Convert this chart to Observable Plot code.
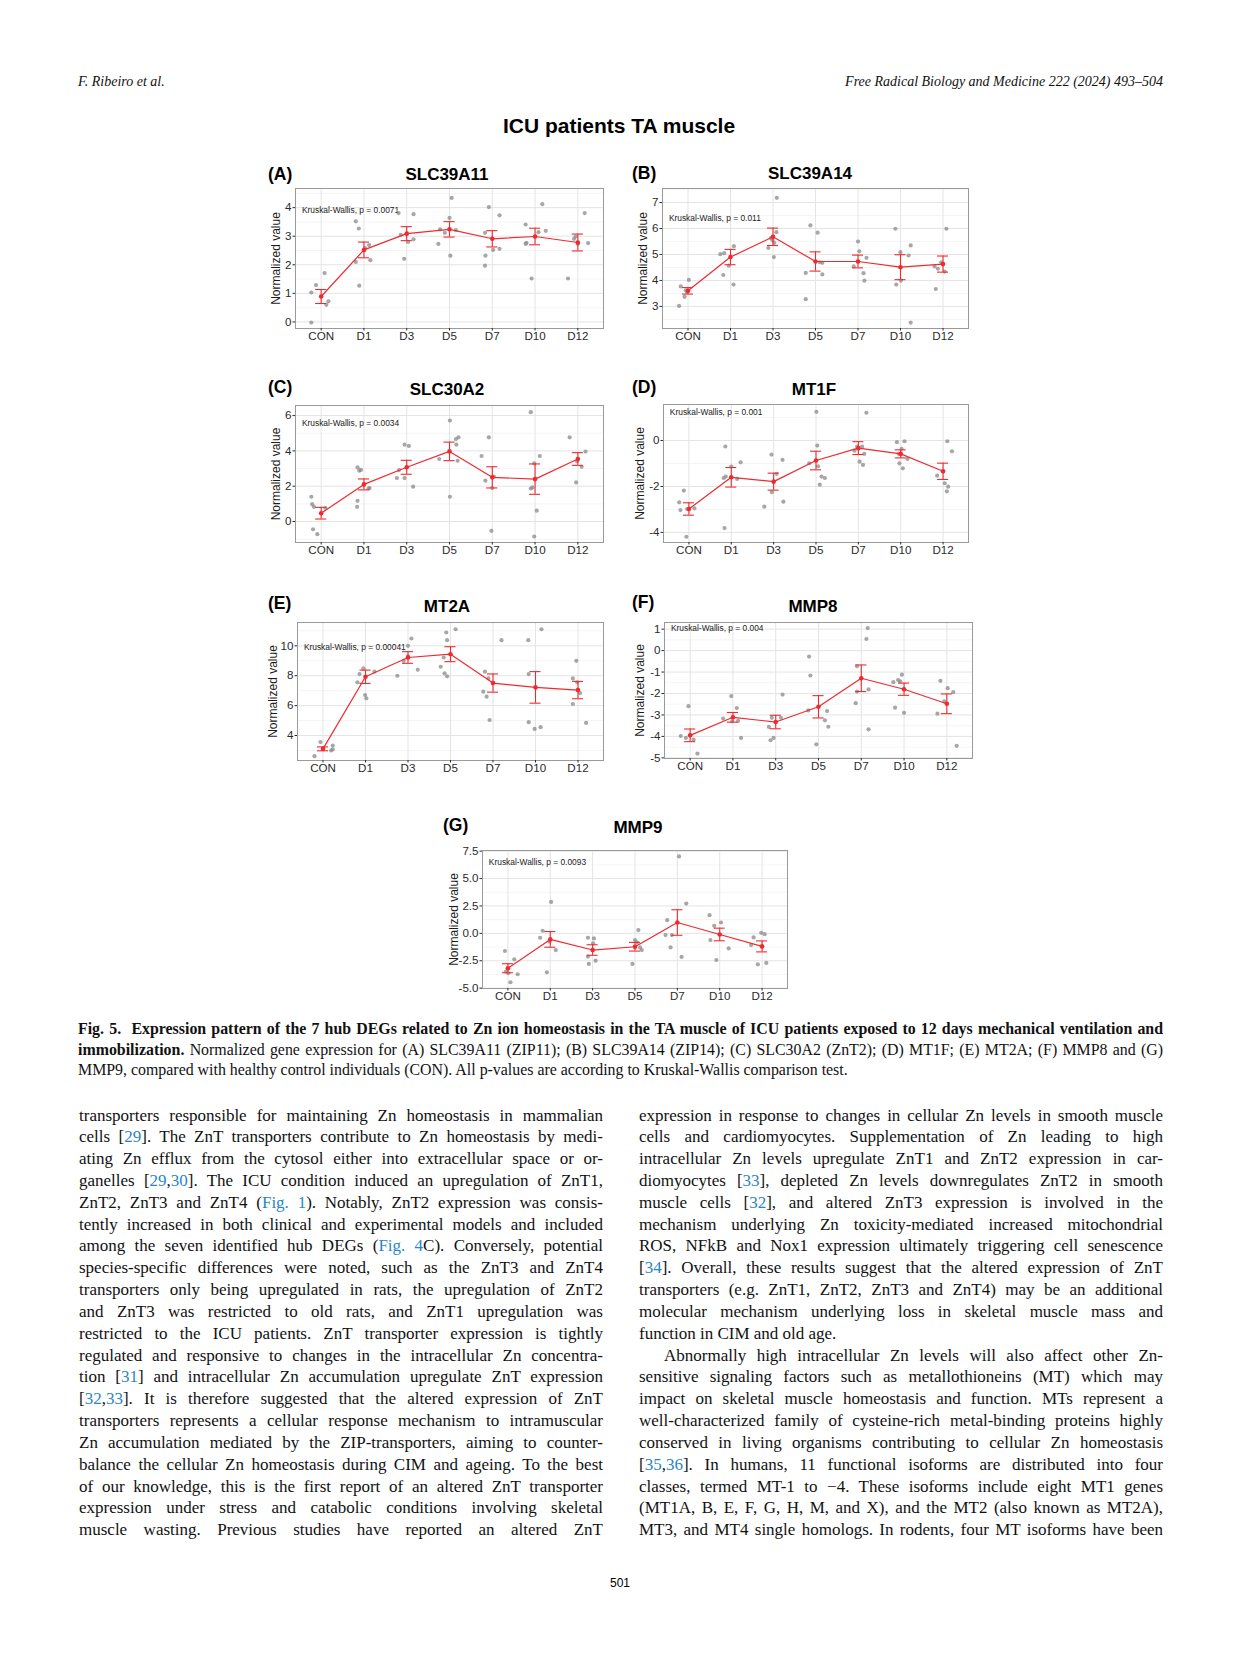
<!DOCTYPE html>
<html><head><meta charset="utf-8">
<script src="https://cdn.jsdelivr.net/npm/d3@7"></script>
<script src="https://cdn.jsdelivr.net/npm/@observablehq/plot@0.6"></script>
<style>
body{margin:0;background:#fff}
#page{position:relative;width:1241px;height:1654px;background:#fff;overflow:hidden}
.abs{position:absolute}
.hdr{font-family:"Liberation Serif",serif;font-style:italic;font-size:14px;line-height:16px;top:74px;color:#111;white-space:nowrap}
.sans{font-family:"Liberation Sans",Arial,sans-serif;color:#000}
.letter{font-weight:bold;font-size:17.5px;line-height:20px;white-space:nowrap}
.ptitle{font-weight:bold;font-size:17px;line-height:20px;transform:translateX(-50%);white-space:nowrap}
.cap{font-family:"Liberation Serif",serif;font-size:15.9px;line-height:20.5px;left:78px;width:1085px;top:1019px;color:#111}
.col{font-family:"Liberation Serif",serif;font-size:17px;line-height:21.83px;width:524px;top:1104.5px;color:#111}
.j{text-align:justify;text-align-last:justify}
.r{color:#2b86c5}
</style></head><body>
<div id="page">
  <div class="abs hdr" style="left:78px">F. Ribeiro et al.</div>
  <div class="abs hdr" style="right:78px">Free Radical Biology and Medicine 222 (2024) 493–504</div>
  <div class="abs sans" style="left:0;width:1238px;top:114px;text-align:center;font-weight:bold;font-size:21px;line-height:24px">ICU patients TA muscle</div>

  <div class="abs cap">
    <div class="j"><b>Fig. 5.&nbsp; Expression pattern of the 7 hub DEGs related to Zn ion homeostasis in the TA muscle of ICU patients exposed to 12 days mechanical ventilation and</b></div>
    <div class="j"><b>immobilization.</b> Normalized gene expression for (A) SLC39A11 (ZIP11); (B) SLC39A14 (ZIP14); (C) SLC30A2 (ZnT2); (D) MT1F; (E) MT2A; (F) MMP8 and (G)</div>
    <div>MMP9, compared with healthy control individuals (CON). All p-values are according to Kruskal-Wallis comparison test.</div>
  </div>

  <div class="abs col" style="left:79px">
    <div class="j">transporters responsible for maintaining Zn homeostasis in mammalian</div>
    <div class="j">cells [<span class="r">29</span>]. The ZnT transporters contribute to Zn homeostasis by medi-</div>
    <div class="j">ating Zn efflux from the cytosol either into extracellular space or or-</div>
    <div class="j">ganelles [<span class="r">29</span>,<span class="r">30</span>]. The ICU condition induced an upregulation of ZnT1,</div>
    <div class="j">ZnT2, ZnT3 and ZnT4 (<span class="r">Fig. 1</span>). Notably, ZnT2 expression was consis-</div>
    <div class="j">tently increased in both clinical and experimental models and included</div>
    <div class="j">among the seven identified hub DEGs (<span class="r">Fig. 4</span>C). Conversely, potential</div>
    <div class="j">species-specific differences were noted, such as the ZnT3 and ZnT4</div>
    <div class="j">transporters only being upregulated in rats, the upregulation of ZnT2</div>
    <div class="j">and ZnT3 was restricted to old rats, and ZnT1 upregulation was</div>
    <div class="j">restricted to the ICU patients. ZnT transporter expression is tightly</div>
    <div class="j">regulated and responsive to changes in the intracellular Zn concentra-</div>
    <div class="j">tion [<span class="r">31</span>] and intracellular Zn accumulation upregulate ZnT expression</div>
    <div class="j">[<span class="r">32</span>,<span class="r">33</span>]. It is therefore suggested that the altered expression of ZnT</div>
    <div class="j">transporters represents a cellular response mechanism to intramuscular</div>
    <div class="j">Zn accumulation mediated by the ZIP-transporters, aiming to counter-</div>
    <div class="j">balance the cellular Zn homeostasis during CIM and ageing. To the best</div>
    <div class="j">of our knowledge, this is the first report of an altered ZnT transporter</div>
    <div class="j">expression under stress and catabolic conditions involving skeletal</div>
    <div class="j">muscle wasting. Previous studies have reported an altered ZnT</div>
  </div>

  <div class="abs col" style="left:639px">
    <div class="j">expression in response to changes in cellular Zn levels in smooth muscle</div>
    <div class="j">cells and cardiomyocytes. Supplementation of Zn leading to high</div>
    <div class="j">intracellular Zn levels upregulate ZnT1 and ZnT2 expression in car-</div>
    <div class="j">diomyocytes [<span class="r">33</span>], depleted Zn levels downregulates ZnT2 in smooth</div>
    <div class="j">muscle cells [<span class="r">32</span>], and altered ZnT3 expression is involved in the</div>
    <div class="j">mechanism underlying Zn toxicity-mediated increased mitochondrial</div>
    <div class="j">ROS, NFkB and Nox1 expression ultimately triggering cell senescence</div>
    <div class="j">[<span class="r">34</span>]. Overall, these results suggest that the altered expression of ZnT</div>
    <div class="j">transporters (e.g. ZnT1, ZnT2, ZnT3 and ZnT4) may be an additional</div>
    <div class="j">molecular mechanism underlying loss in skeletal muscle mass and</div>
    <div>function in CIM and old age.</div>
    <div class="j" style="text-indent:25px">Abnormally high intracellular Zn levels will also affect other Zn-</div>
    <div class="j">sensitive signaling factors such as metallothioneins (MT) which may</div>
    <div class="j">impact on skeletal muscle homeostasis and function. MTs represent a</div>
    <div class="j">well-characterized family of cysteine-rich metal-binding proteins highly</div>
    <div class="j">conserved in living organisms contributing to cellular Zn homeostasis</div>
    <div class="j">[<span class="r">35</span>,<span class="r">36</span>]. In humans, 11 functional isoforms are distributed into four</div>
    <div class="j">classes, termed MT-1 to −4. These isoforms include eight MT1 genes</div>
    <div class="j">(MT1A, B, E, F, G, H, M, and X), and the MT2 (also known as MT2A),</div>
    <div class="j">MT3, and MT4 single homologs. In rodents, four MT isoforms have been</div>
  </div>

  <div class="abs sans" style="left:0;width:1240px;top:1575px;text-align:center;font-size:12px;line-height:16px">501</div>
</div>
<script>
const groups = ["CON","D1","D3","D5","D7","D10","D12"];
const geneNames = ["SLC39A11","SLC39A14","SLC30A2","MT1F","MT2A","MMP8","MMP9"];
const pValues = ["0.0071","0.011","0.0034","0.001","0.00041","0.004","0.0093"];

// (A) SLC39A11
const slc39a11Values = [
  [1.03,1.29,1.71,-0.02,0.60,0.72],
  [3.52,3.27,2.10,1.27,2.58,2.69,2.16],
  [3.81,3.77,3.05,2.89,2.21,2.80],
  [4.34,3.64,3.24,3.12,3.21,2.73,2.32],
  [4.02,3.73,3.12,2.32,1.97,2.52,2.56],
  [4.12,3.41,3.19,3.14,2.73,2.77,1.52],
  [3.81,2.91,2.73,2.76,1.52,2.99]];
const slc39a11Jitter = [
  [-0.23,-0.12,0.08,-0.23,0.12,0.17],
  [-0.19,-0.12,-0.19,-0.11,0.03,0.12,0.15],
  [-0.19,0.16,-0.14,0.16,-0.06,0.03],
  [0.05,0.0,-0.22,-0.11,0.15,-0.26,0.02],
  [-0.08,0.17,-0.17,-0.16,-0.17,0.02,0.17],
  [0.17,-0.22,0.25,0.08,-0.22,-0.20,-0.08],
  [0.16,-0.09,0.0,0.24,-0.23,-0.05]];
const slc39a11Mean = [0.89,2.52,3.09,3.24,2.91,2.99,2.78];
const slc39a11Se = [0.245,0.275,0.245,0.27,0.285,0.29,0.295];

// (B) SLC39A14
const slc39a14Values = [
  [3.02,3.77,4.02,3.62,3.37,3.55],
  [5.01,5.05,5.32,4.21,3.84,4.57],
  [7.18,5.86,5.25,5.63,5.45,4.90,5.55],
  [6.12,5.84,4.29,3.28,4.70,4.68,4.23],
  [5.50,5.12,4.87,4.54,4.28,3.99],
  [5.99,5.35,5.09,4.96,3.84,3.99,2.38],
  [5.99,4.54,4.45,4.70,3.67,4.34]];
const slc39a14Jitter = [
  [-0.21,-0.17,0.02,-0.05,-0.08,-0.02],
  [-0.24,-0.15,0.08,-0.17,0.07,-0.04],
  [0.09,0.08,-0.11,-0.05,0.03,0.02,-0.01],
  [-0.12,0.05,-0.23,-0.23,0.10,0.16,0.16],
  [0.0,0.03,0.20,-0.10,0.13,0.15],
  [-0.12,0.24,0.0,0.19,-0.10,0.01,0.24],
  [0.08,-0.20,-0.12,-0.04,-0.17,0.04]];
const slc39a14Mean = [3.60,4.90,5.68,4.73,4.73,4.51,4.63];
const slc39a14Se = [0.125,0.295,0.335,0.37,0.245,0.48,0.31];

// (C) SLC30A2
const slc30a2Values = [
  [1.40,0.98,0.83,-0.44,-0.72,0.76],
  [3.07,2.88,2.92,1.17,0.83,1.87,1.89],
  [4.35,4.28,2.91,2.46,2.46,1.97],
  [5.72,4.77,4.67,4.35,3.54,3.44,1.40],
  [4.77,3.71,2.54,2.31,1.89,-0.53],
  [6.19,3.29,3.71,1.87,1.93,0.61,-0.85],
  [4.77,3.96,3.41,3.10,2.21]];
const slc30a2Jitter = [
  [-0.23,-0.21,-0.17,-0.19,-0.09,0.10],
  [-0.15,-0.11,-0.07,-0.15,-0.16,0.11,0.13],
  [-0.05,0.05,-0.18,-0.23,-0.05,0.15],
  [0.01,0.21,0.15,0.16,-0.24,0.19,0.01],
  [-0.08,-0.25,0.04,-0.16,0.0,-0.02],
  [-0.10,-0.02,0.11,-0.10,-0.06,0.04,-0.02],
  [-0.19,0.18,-0.02,0.09,-0.04]];
const slc30a2Mean = [0.47,2.10,3.07,3.97,2.50,2.40,3.54];
const slc30a2Se = [0.33,0.31,0.395,0.525,0.60,0.86,0.36];

// (D) MT1F
const mt1fValues = [
  [-2.18,-2.69,-3.03,-2.98,-2.95,-4.19],
  [-0.26,-0.95,-1.13,-1.63,-1.57,-1.67,-3.81],
  [-0.61,-0.84,-1.45,-2.25,-2.88,-2.66],
  [1.25,-0.22,-0.99,-1.12,-1.57,-1.63,-1.92],
  [1.21,-0.26,-0.26,-0.44,-0.58,-0.92,-1.06],
  [-0.03,-0.07,-0.36,-0.58,-0.80,-0.99,-1.21],
  [-0.03,-0.47,-1.53,-1.86,-2.01,-2.21]];
const mt1fJitter = [
  [-0.12,-0.23,-0.20,-0.04,0.13,-0.06],
  [-0.14,0.22,0.0,-0.18,-0.13,0.14,-0.16],
  [-0.05,0.21,0.07,-0.04,-0.22,0.23],
  [0.01,0.03,-0.16,0.05,0.13,0.21,0.09],
  [0.19,-0.03,0.09,-0.09,0.14,0.03,0.11],
  [0.09,-0.09,0.02,-0.05,0.16,-0.03,0.05],
  [0.10,0.21,-0.14,0.04,0.12,0.09]];
const mt1fMean = [-2.98,-1.60,-1.79,-0.87,-0.33,-0.58,-1.34];
const mt1fSe = [0.27,0.425,0.37,0.405,0.28,0.175,0.355];

// (E) MT2A
const mt2aValues = [
  [3.56,2.62,3.33,3.00,3.07],
  [8.11,8.49,7.56,8.27,6.71,6.49],
  [10.49,10.00,8.00,8.40,9.29,9.00],
  [11.11,10.89,10.38,9.22,8.60,8.16,7.96],
  [10.38,8.27,7.82,6.93,6.60,5.04],
  [10.38,11.11,8.11,4.89,4.44,4.56],
  [9.00,7.82,7.56,6.84,6.11,4.84]];
const mt2aJitter = [
  [-0.06,-0.20,0.23,0.19,0.23],
  [-0.14,-0.05,-0.19,0.21,-0.01,0.02],
  [0.08,0.0,-0.25,0.23,0.0,-0.10],
  [0.12,-0.10,-0.08,-0.16,-0.23,-0.14,-0.08],
  [0.20,-0.19,-0.11,-0.23,-0.15,-0.08],
  [-0.17,0.14,-0.16,-0.16,-0.02,0.12],
  [-0.04,-0.12,-0.02,0.05,-0.12,0.19]];
const mt2aMean = [3.11,7.93,9.22,9.44,7.51,7.22,7.04];
const mt2aSe = [0.13,0.445,0.39,0.50,0.61,1.055,0.58];

// (F) MMP8
const mmp8Values = [
  [-2.59,-3.98,-4.07,-4.15,-4.80],
  [-2.12,-2.68,-3.17,-3.28,-4.07,-3.30],
  [-2.05,-3.13,-3.13,-3.56,-4.07,-4.18],
  [-0.28,-1.16,-2.79,-2.82,-3.25,-3.55,-4.37],
  [1.05,0.54,-0.73,-1.91,-1.81,-2.45,-3.67],
  [-1.12,-1.37,-1.43,-1.47,-2.66,-2.90],
  [-1.41,-1.75,-1.94,-2.37,-2.94,-4.44]];
const mmp8Jitter = [
  [-0.04,-0.22,-0.10,0.08,0.17],
  [-0.04,0.09,-0.23,0.12,0.19,-0.02],
  [0.16,-0.09,0.12,-0.16,-0.05,-0.12],
  [-0.22,-0.19,-0.24,0.20,0.15,0.23,-0.05],
  [0.15,0.12,-0.10,-0.10,0.17,-0.13,0.17],
  [-0.05,-0.14,-0.09,-0.25,-0.21,0.0],
  [-0.15,0.02,0.15,-0.06,-0.22,0.23]];
const mmp8Mean = [-3.95,-3.11,-3.33,-2.62,-1.29,-1.80,-2.48];
const mmp8Se = [0.295,0.225,0.315,0.52,0.62,0.285,0.46];

// (G) MMP9
const mmp9Values = [
  [-1.61,-2.37,-3.49,-3.64,-3.73,-4.46],
  [2.87,0.24,-0.40,-0.76,-1.52,-3.55],
  [-0.40,-0.46,-0.91,-2.12,-2.79,-2.49],
  [0.30,-0.61,-0.82,-1.28,-1.52,-2.79],
  [7.02,2.72,1.20,-0.16,-0.16,-1.28,-2.15],
  [1.66,0.99,0.69,-0.61,-1.37,-2.43],
  [0.05,-0.07,-0.37,-1.07,-2.82,-2.70]];
const mmp9Jitter = [
  [-0.07,0.15,-0.05,0.01,0.23,0.06],
  [0.02,-0.18,-0.24,-0.02,0.13,-0.08],
  [-0.11,0.03,0.01,-0.11,-0.09,0.07],
  [0.08,0.0,0.05,0.12,0.16,-0.06],
  [0.04,0.21,-0.24,-0.28,-0.13,-0.16,0.10],
  [-0.24,0.03,-0.13,-0.22,0.21,-0.08],
  [-0.02,0.06,-0.20,-0.26,-0.10,0.10]];
const mmp9Mean = [-3.18,-0.55,-1.52,-1.22,0.99,-0.10,-1.19];
const mmp9Se = [0.41,0.715,0.48,0.395,1.165,0.575,0.50];

// y-axis ticks per panel
const ticksA = [0,1,2,3,4], ticksB = [3,4,5,6,7], ticksC = [0,2,4,6], ticksD = [-4,-2,0],
      ticksE = [4,6,8,10], ticksF = [-5,-4,-3,-2,-1,0,1], ticksG = [-5,-2.5,0,2.5,5,7.5];

const RED = "#ef2a2f";
const intFmt = d => String(d);
const oneFmt = d => d.toFixed(1);

// layout (frame: left, top, right, bottom in page px)
const panels = [
  {letter:"(A)", values:slc39a11Values, jitter:slc39a11Jitter, mean:slc39a11Mean, se:slc39a11Se, ticks:ticksA, fmt:intFmt,
   frame:[295,188,603,328], ydomain:[-0.23,4.67], labelY:3.9, ylabDx:-19, letterPos:[268,174], titlePos:[447,175]},
  {letter:"(B)", values:slc39a14Values, jitter:slc39a14Jitter, mean:slc39a14Mean, se:slc39a14Se, ticks:ticksB, fmt:intFmt,
   frame:[662,188,968,328], ydomain:[2.15,7.54], labelY:6.4, ylabDx:-19, letterPos:[632,173], titlePos:[810,174]},
  {letter:"(C)", values:slc30a2Values, jitter:slc30a2Jitter, mean:slc30a2Mean, se:slc30a2Se, ticks:ticksC, fmt:intFmt,
   frame:[295,405,603,542], ydomain:[-1.19,6.57], labelY:5.58, ylabDx:-19, letterPos:[268,387], titlePos:[447,390]},
  {letter:"(D)", values:mt1fValues, jitter:mt1fJitter, mean:mt1fMean, se:mt1fSe, ticks:ticksD, fmt:intFmt,
   frame:[663,404,968,542], ydomain:[-4.44,1.57], labelY:1.21, ylabDx:-23, letterPos:[632,387], titlePos:[814,390]},
  {letter:"(E)", values:mt2aValues, jitter:mt2aJitter, mean:mt2aMean, se:mt2aSe, ticks:ticksE, fmt:intFmt,
   frame:[297,622,603,760], ydomain:[2.33,11.56], labelY:9.93, ylabDx:-24, letterPos:[268,603], titlePos:[447,607]},
  {letter:"(F)", values:mmp8Values, jitter:mmp8Jitter, mean:mmp8Mean, se:mmp8Se, ticks:ticksF, fmt:intFmt,
   frame:[664,622,972,758], ydomain:[-5.03,1.31], labelY:1.05, ylabDx:-24, letterPos:[632,602], titlePos:[813,607]},
  {letter:"(G)", values:mmp9Values, jitter:mmp9Jitter, mean:mmp9Mean, se:mmp9Se, ticks:ticksG, fmt:oneFmt,
   frame:[482,850,787,988], ydomain:[-5.03,7.56], labelY:6.45, ylabDx:-28, letterPos:[443,825], titlePos:[638,828]}
];

const page = document.getElementById("page");
const idx = d3.range(groups.length);

panels.forEach((c, k) => {
  const ml = 45, mr = 4, mt = 4, mb = 24;
  const [fl, ft, fr, fb] = c.frame;
  const w = fr - fl + ml + mr, h = fb - ft + mt + mb;
  const step = (c.ticks[1] - c.ticks[0]) / 2;
  const minor = d3.range(c.ticks[0] - step, c.ticks[c.ticks.length - 1] + step * 1.01, step * 2)
    .filter(v => v > c.ydomain[0] && v < c.ydomain[1]);
  const pts = c.values.flatMap((arr, i) => arr.map((v, j) => ({x: i + c.jitter[i][j], y: v})));
  const summ = c.mean.map((m, i) => ({x: i, m, lo: m - c.se[i], hi: m + c.se[i]}));
  const svg = Plot.plot({
    width: w, height: h, marginLeft: ml, marginRight: mr, marginTop: mt, marginBottom: mb,
    x: {domain: [-0.6, groups.length - 0.4]},
    y: {domain: c.ydomain},
    style: {fontFamily: "Liberation Sans, Arial, sans-serif", fontSize: "11.6px", background: "transparent", overflow: "visible", color: "#2a2a2a"},
    marks: [
      Plot.ruleY(minor, {stroke: "#f1f1f1", strokeWidth: 0.7}),
      Plot.ruleY(c.ticks, {stroke: "#e4e4e4", strokeWidth: 1}),
      Plot.ruleX(idx, {stroke: "#e4e4e4", strokeWidth: 1}),
      Plot.frame({stroke: "#9a9a9a", strokeWidth: 1}),
      Plot.axisY({ticks: c.ticks, tickSize: 2.5, tickPadding: 1.5, tickFormat: c.fmt, label: null, color: "#2a2a2a"}),
      Plot.axisX({ticks: idx, tickSize: 2.5, tickPadding: 1.2, tickFormat: i => groups[i], label: null, color: "#2a2a2a"}),
      Plot.text(["Normalized value"], {text: d => d, frameAnchor: "left", textAnchor: "middle", rotate: -90, dx: c.ylabDx, fontSize: 12, fill: "#1a1a1a"}),
      Plot.text([`Kruskal-Wallis, p = ${pValues[k]}`], {text: d => d, x: -0.45, y: c.labelY, textAnchor: "start", fontSize: 8.4, fill: "#222"}),
      Plot.dot(pts, {x: "x", y: "y", r: 2.1, fill: "#8a8a8a", fillOpacity: 0.75}),
      Plot.line(summ, {x: "x", y: "m", stroke: RED, strokeWidth: 1.2}),
      Plot.ruleX(summ, {x: "x", y1: "lo", y2: "hi", stroke: RED, strokeWidth: 1.1}),
      Plot.ruleY(summ, {y: "lo", x1: d => d.x - 0.13, x2: d => d.x + 0.13, stroke: RED, strokeWidth: 1.1}),
      Plot.ruleY(summ, {y: "hi", x1: d => d.x - 0.13, x2: d => d.x + 0.13, stroke: RED, strokeWidth: 1.1}),
      Plot.dot(summ, {x: "x", y: "m", r: 2.3, fill: RED})
    ]
  });
  const holder = document.createElement("div");
  holder.className = "abs";
  holder.style.left = (fl - ml) + "px";
  holder.style.top = (ft - mt) + "px";
  holder.appendChild(svg);
  page.appendChild(holder);

  const lt = document.createElement("div");
  lt.className = "abs sans letter";
  lt.style.left = c.letterPos[0] + "px";
  lt.style.top = (c.letterPos[1] - 10) + "px";
  lt.textContent = c.letter;
  page.appendChild(lt);

  const tt = document.createElement("div");
  tt.className = "abs sans ptitle";
  tt.style.left = c.titlePos[0] + "px";
  tt.style.top = (c.titlePos[1] - 10) + "px";
  tt.textContent = geneNames[k];
  page.appendChild(tt);
});
</script>
</body></html>
